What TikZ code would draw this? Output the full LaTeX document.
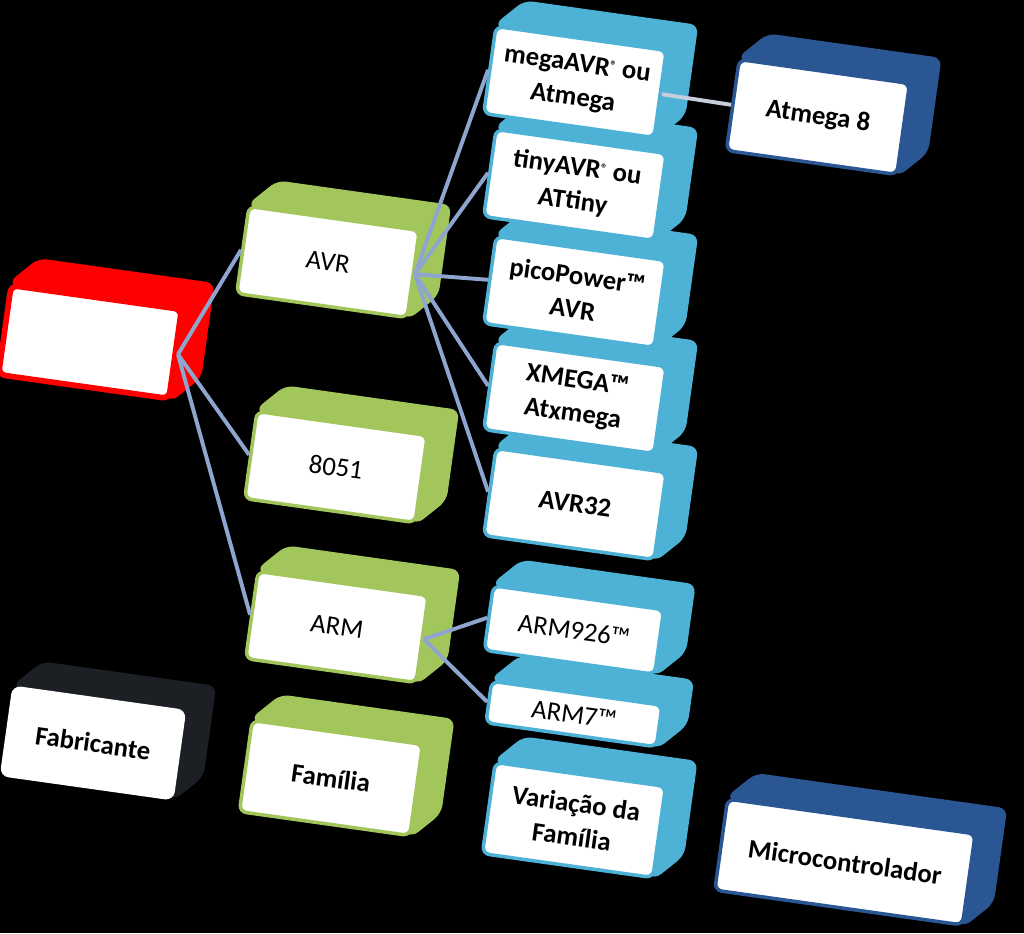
\documentclass[tikz,border=0pt]{standalone}
\usepackage{fontspec}
\setmainfont{Carlito}
\usepackage{tikz}
\usepackage{xcolor}
\usetikzlibrary{calc, backgrounds}
\definecolor{BoxRed}{HTML}{FF0000}
\definecolor{BoxGreen}{HTML}{A3C65C}
\definecolor{BoxBlue}{HTML}{4DB2D6}
\definecolor{BoxNavy}{HTML}{2A5694}
\definecolor{BoxDark}{HTML}{1C1F24}
\definecolor{LinkBlue}{HTML}{8EA6CF}
\definecolor{LinkGray}{HTML}{C6CDDB}
\tikzset{
    % Front faces - white, tilted
    bloco/.style={
        rectangle,
        rounded corners=5pt,
        fill=white,
        line width=2.5pt,
        rotate=-8,
        minimum width=4.3cm,
        minimum height=2.2cm,
        inner sep=1pt,
        align=center,
        font=\fontsize{19}{24}\selectfont\bfseries
    },
    fino/.style={font=\fontsize{19}{24}\selectfont},
    fabricante/.style={bloco, draw=BoxRed, line width=4pt},
    familia/.style={bloco, draw=BoxGreen},
    variacao/.style={bloco, draw=BoxBlue},
    micro/.style={bloco, draw=BoxNavy},
    legenda/.style={bloco, draw=white},
    % Connectors - plain lines
    link/.style={line width=2.8pt, draw=LinkBlue},
    linkclaro/.style={line width=2.8pt, draw=LinkGray}
}
\newcommand{\regmark}{{\fontsize{9}{9}\selectfont\raisebox{1.1ex}{®}}}

\begin{document}
\begin{tikzpicture}[x=0.025cm, y=-0.025cm]
    \useasboundingbox (0,0) rectangle (1024,933);

    % Fabricante
    \node[fabricante, minimum height=2.25cm] (fab) at (90,342) {};

    % Familias
    \node[familia, fino] (avr) at (328,262) {AVR};
    \node[familia, fino] (c8051) at (336,467) {8051};
    \node[familia, fino] (arm) at (337,627) {ARM};

    % Variacoes da familia
    \node[variacao] (mega) at (575,82) {megaAVR\regmark{} ou\\Atmega};
    \node[variacao] (tiny) at (575,185) {tinyAVR\regmark{} ou\\ATtiny};
    \node[variacao] (pico) at (575,292) {picoPower™\\AVR};
    \node[variacao] (xmega) at (575,398) {XMEGA™\\Atxmega};
    \node[variacao] (avr32) at (575,504) {AVR32};
    \node[variacao, fino, minimum height=1.63cm] (arm926) at (574,630) {ARM926™};
    \node[variacao, fino, minimum height=1.05cm] (arm7) at (574,714) {ARM7™};

    % Microcontrolador
    \node[micro, minimum height=2.3cm] (atmega8) at (818,117) {Atmega 8};

    % Legenda
    \node[legenda] (legFab) at (93,743) {Fabricante};
    \node[familia, minimum height=2.3cm] (legFam) at (331,778) {Família};
    \node[variacao, minimum height=2.3cm] (legVar) at (574,820) {Variação da\\Família};
    \node[micro, minimum width=6.25cm, minimum height=2.3cm] (legMic) at (845,862) {Microcontrolador};

    % Extrusions behind the faces
    \begin{pgfonlayer}{background}
        \fill[black] (0,0) rectangle (1024,933);
        \foreach \n/\c in {legMic/BoxNavy, legVar/BoxBlue, legFam/BoxGreen, legFab/BoxDark,
                           arm7/BoxBlue, arm926/BoxBlue, avr32/BoxBlue, xmega/BoxBlue,
                           pico/BoxBlue, tiny/BoxBlue, mega/BoxBlue, atmega8/BoxNavy,
                           arm/BoxGreen, c8051/BoxGreen, avr/BoxGreen, fab/BoxRed} {
            \fill[\c, rounded corners=6pt] (\n.north west) -- ($(\n.north west)+(30,-24)$)
                -- ($(\n.north east)+(30,-24)$) -- ($(\n.south east)+(30,-24)$)
                -- (\n.south east) -- cycle;
        }
    \end{pgfonlayer}

    % Connectors
    \foreach \x in {avr,c8051,arm} {
        \draw[link] (fab.east) -- (\x.west);
    }
    \foreach \x in {mega,tiny,pico,xmega,avr32} {
        \draw[link] (avr.east) -- (\x.west);
    }
    \foreach \x in {arm926,arm7} {
        \draw[link] (arm.east) -- (\x.west);
    }
    \draw[linkclaro] (mega.east) -- (atmega8.west);
\end{tikzpicture}
\end{document}
